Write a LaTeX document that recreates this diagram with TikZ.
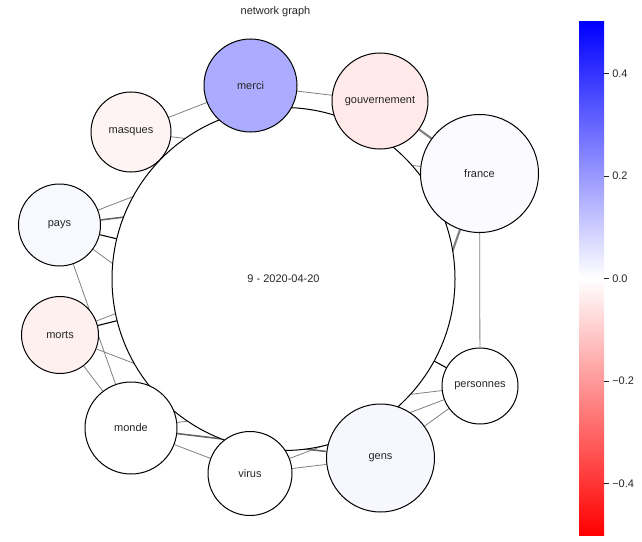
\documentclass[tikz,border=0pt]{standalone}
\usepackage{fontspec}
\setmainfont{Liberation Sans}
\usetikzlibrary{
	positioning,       %定位
	backgrounds,   %背景路径
}
\definecolor{cmerci}{RGB}{171,171,255}
\definecolor{cgouv}{RGB}{255,233,233}
\definecolor{cmasques}{RGB}{255,244,244}
\definecolor{cmorts}{RGB}{255,240,240}
\definecolor{cpays}{RGB}{247,249,255}
\definecolor{cfrance}{RGB}{250,250,255}
\definecolor{cgens}{RGB}{246,247,255}
\definecolor{ctexte}{RGB}{38,38,38}
\tikzset{
	every picture/.style={
		>=latex,
	},
	mot/.style={circle, draw=black, line width=0.75pt, inner sep=0pt,
		text=ctexte, font=\fontsize{8.25}{10}\selectfont},
	taille/.style={minimum size=1.5pt*#1},
	lien/.style={draw=gray, line width=0.6pt},
	lienfort/.style={draw=gray, line width=1.6pt},
	liennoir/.style={draw=black, line width=0.8pt},
}
\begin{document}
\begin{tikzpicture}[x=0.75pt,y=-0.75pt]
\useasboundingbox (0,0) rectangle (642,542);
\node[text=ctexte, font=\fontsize{8.25}{10}\selectfont] (titre) at (275.5,12) {network graph};
\node[mot,taille=171.5,fill=white] (centre) at (283.5,279) {9 - 2020-04-20};
\node[mot,taille=46.5,fill=cmerci] (merci) at (250.5,85.5) {merci};
\node[mot,taille=48,fill=cgouv] (gouv) at (380,101) {gouvernement};
\node[mot,taille=59,fill=cfrance] (france) at (479.5,173.5) {france};
\node[mot,taille=40,fill=cmasques] (masques) at (131,132) {masques};
\node[mot,taille=41,fill=cpays] (pays) at (59.5,225) {pays};
\node[mot,taille=38.5,fill=cmorts] (morts) at (60,335) {morts};
\node[mot,taille=46,fill=white] (monde) at (131,428) {monde};
\node[mot,taille=42,fill=white] (virus) at (250,473.5) {virus};
\node[mot,taille=54,fill=cgens] (gens) at (380.5,458) {gens};
\node[mot,taille=38,fill=white] (personnes) at (480,386) {personnes};
\begin{scope}[on background layer]
\draw[liennoir] (pays) -- (centre);
\draw[liennoir] (morts) -- (centre);
\draw[liennoir] (personnes) -- (centre);
\draw[lien] (merci) -- (masques);
\draw[lien] (merci) -- (gouv);
\draw[lien] (masques) -- (france);
\draw[lien] (pays) -- (gouv);
\draw[lien] (pays) -- (gens);
\draw[lien] (pays) -- (monde);
\draw[lien] (morts) -- (france);
\draw[lien] (morts) -- (gens);
\draw[lien] (morts) -- (monde);
\draw[lien] (monde) -- (personnes);
\draw[lien] (monde) -- (virus);
\draw[lien] (virus) -- (personnes);
\draw[lien] (virus) -- (gens);
\draw[lien] (gens) -- (personnes);
\draw[lien] (france) -- (personnes);
\draw[lienfort] (gouv) -- (france);
\draw[lienfort] (france) -- (gens);
\draw[lien,line width=1.2pt,draw=black!60] (pays) -- (france);
\draw[lien,line width=1.2pt,draw=black!60] (monde) -- (gens);
\end{scope}
% barre de couleurs
\shade[top color=blue, bottom color=red, middle color=white] (579,22) rectangle (604,535);
\foreach \v/\t in {0.4/0.4, 0.2/0.2, 0.0/0.0, -0.2/−0.2, -0.4/−0.4}
{
	\draw[ctexte, line width=0.6pt] (604,278.5-513*\v) -- (608.5,278.5-513*\v);
	\node[anchor=west, text=ctexte, font=\fontsize{8.25}{10}\selectfont, inner sep=0pt] at (612,278.5-513*\v) {\t};
}
\end{tikzpicture}
\end{document}
